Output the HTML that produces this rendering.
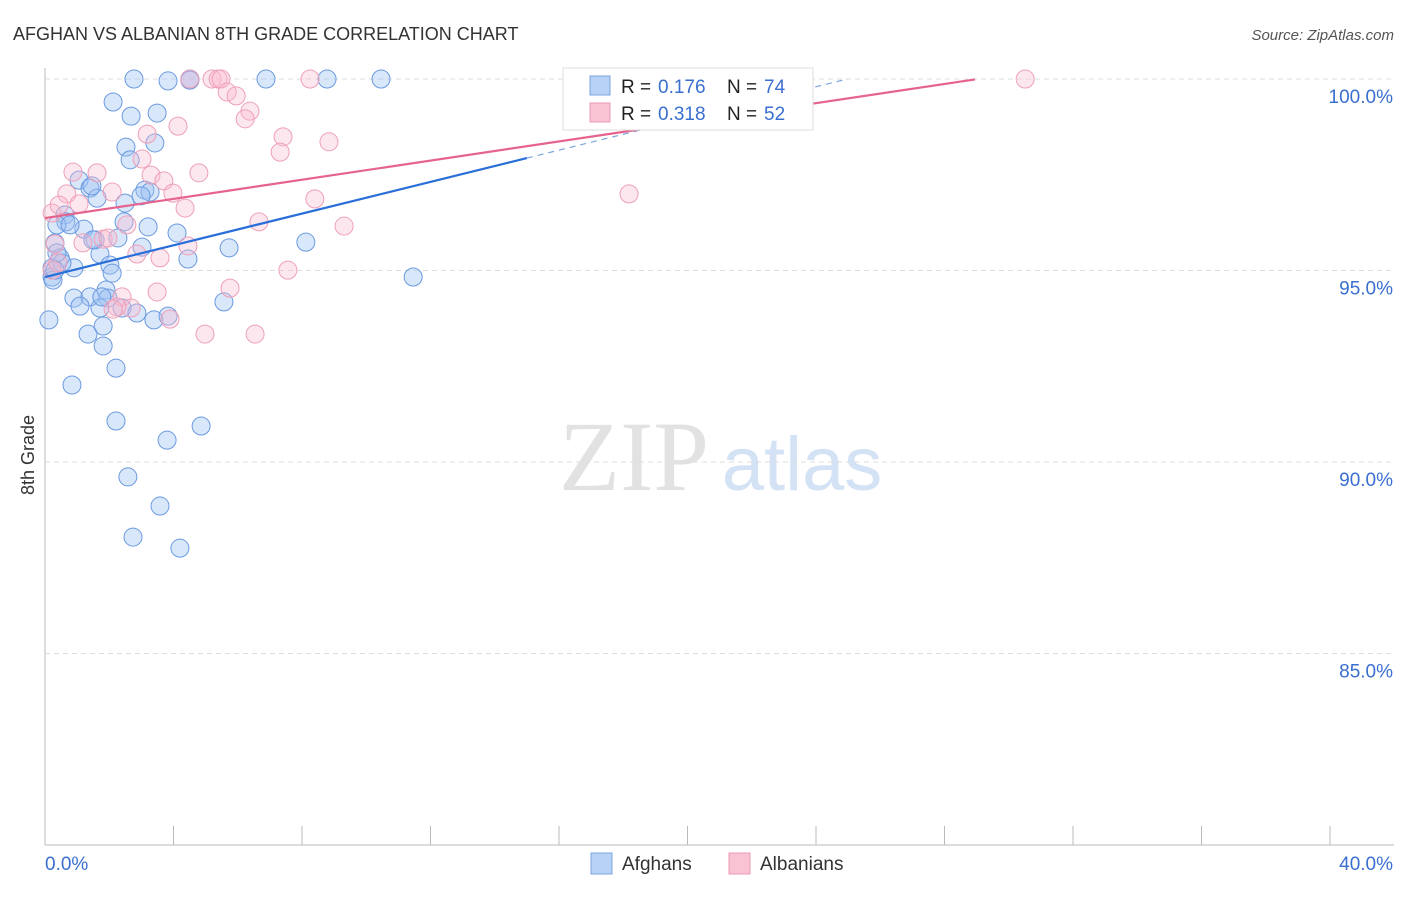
<!DOCTYPE html>
<html><head><meta charset="utf-8">
<style>
body{margin:0;background:#fff;font-family:"Liberation Sans",sans-serif;}
svg text{font-family:"Liberation Sans",sans-serif;}
</style></head>
<body>
<svg id="chart" width="1406" height="892">
<text x="13" y="40" font-size="18" fill="#333">AFGHAN VS ALBANIAN 8TH GRADE CORRELATION CHART</text>
<text x="1394" y="40" font-size="15" fill="#555" font-style="italic" text-anchor="end">Source: ZipAtlas.com</text>
<text x="634" y="490" font-size="100" fill="#e2e2e2" style="font-family:'Liberation Serif',serif" text-anchor="middle">ZIP</text>
<text x="802" y="490" font-size="76" fill="#d4e2f5" text-anchor="middle">atlas</text>
<text transform="translate(34,455) rotate(-90)" font-size="18" fill="#333" text-anchor="middle">8th Grade</text>
<g id="grid"></g><g id="pts"></g><g id="lines"></g>
<g>
<rect x="563" y="68" width="250" height="62" fill="#fff" stroke="#ddd"/>
<rect x="590" y="76" width="20" height="19" fill="#b8d2f5" stroke="#7aa6e0"/>
<rect x="590" y="103" width="20" height="19" fill="#f9c3d3" stroke="#ec9ab4"/>
<text x="621" y="93" font-size="19" fill="#222">R =</text>
<text x="658" y="93" font-size="19" fill="#3a6fd0">0.176</text>
<text x="727" y="93" font-size="19" fill="#222">N =</text>
<text x="764" y="93" font-size="19" fill="#3a6fd0">74</text>
<text x="621" y="120" font-size="19" fill="#222">R =</text>
<text x="658" y="120" font-size="19" fill="#3a6fd0">0.318</text>
<text x="727" y="120" font-size="19" fill="#222">N =</text>
<text x="764" y="120" font-size="19" fill="#3a6fd0">52</text>
</g>
<g>
<rect x="591" y="853" width="21" height="21" fill="#b8d2f5" stroke="#7aa6e0"/>
<text x="622" y="870" font-size="19" fill="#333">Afghans</text>
<rect x="729" y="853" width="21" height="21" fill="#f9c3d3" stroke="#ec9ab4"/>
<text x="760" y="870" font-size="19" fill="#333">Albanians</text>
</g>
</svg>
<script>
const yTicks=[100,95,90,85];
const xTickLabels=["0.0%","40.0%"];
const afghansPx=[[134,79],[168,81],[190,79],[266,79],[327,79],[381,79],[113,102],[131,116],[157,113],[126,147],[130,160],[155,143],[145,190],[150,192],[141,196],[79,180],[90,188],[97,198],[65,215],[66,222],[57,225],[84,229],[124,222],[148,227],[177,233],[118,238],[95,240],[142,247],[229,248],[306,242],[55,243],[100,254],[188,259],[60,258],[110,265],[74,268],[52,268],[112,273],[52,277],[53,280],[413,277],[106,290],[108,298],[74,298],[90,297],[80,306],[100,308],[122,308],[137,313],[154,320],[168,316],[224,302],[49,320],[88,334],[103,326],[103,346],[116,368],[72,385],[116,421],[167,440],[201,426],[128,477],[160,506],[133,537],[180,548],[62,263],[57,253],[93,240],[102,297],[190,80],[125,203],[92,186],[70,225],[55,270]];
const albaniansPx=[[190,79],[212,79],[218,79],[221,79],[310,79],[1025,79],[227,92],[236,96],[250,111],[245,119],[178,126],[147,134],[283,137],[280,152],[329,142],[142,159],[199,173],[73,172],[97,173],[112,192],[67,194],[79,204],[151,175],[164,181],[173,193],[185,208],[315,199],[629,194],[52,213],[59,205],[127,225],[259,222],[344,226],[55,244],[83,243],[103,239],[108,238],[137,254],[160,258],[188,246],[288,270],[52,270],[58,263],[230,288],[157,292],[122,297],[131,308],[117,307],[205,334],[255,334],[170,319],[113,309]];
const afghanX=afghansPx.map(p=>+((p[0]-45)/1285*40).toFixed(2));
const afghanY=afghansPx.map(p=>+(100-(p[1]-79)/38.3).toFixed(2));
const albanianX=albaniansPx.map(p=>+((p[0]-45)/1285*40).toFixed(2));
const albanianY=albaniansPx.map(p=>+(100-(p[1]-79)/38.3).toFixed(2));
const blueTrend=[94.83,0.207,15.0];
const pinkTrend=[96.37,0.125,28.95];
const sx=v=>45+v/40*1285, sy=v=>79+(100-v)*38.3;
const NS="http://www.w3.org/2000/svg";
function mk(t,a,p){const e=document.createElementNS(NS,t);for(const k in a)e.setAttribute(k,a[k]);p.appendChild(e);return e;}
const g=document.getElementById('grid');
const ax=mk('line',{x1:45,y1:68,x2:45,y2:845,stroke:'#bbb'},g);


const bx=mk('line',{x1:45,y1:845,x2:1394,y2:845,stroke:'#bbb'},g);


for(let i=0;i<=10;i++){const t=mk('line',{x1:45+i*128.5,y1:826,x2:45+i*128.5,y2:845,stroke:'#bbb'},g);

}
yTicks.forEach(v=>{const l=mk('line',{x1:45,x2:1394,y1:sy(v),y2:sy(v),stroke:'#ddd','stroke-dasharray':'5,4'},g);


const t=mk('text',{x:1393,y:sy(v)+24,'font-size':19,fill:'#3a6fd0','text-anchor':'end'},g);t.textContent=v.toFixed(1)+'%';

});
xTickLabels.forEach((s,i)=>{const t=mk('text',{x:i?1393:45,y:870,'font-size':19,fill:'#3a6fd0','text-anchor':i?'end':'start'},g);t.textContent=s;

});
const P=document.getElementById('pts');
afghanX.forEach((x,i)=>{const c=mk('circle',{cx:sx(x),cy:sy(afghanY[i]),r:9,fill:'rgba(160,196,242,0.4)',stroke:'#6b9ae0','stroke-width':1},P);

});
albanianX.forEach((x,i)=>{const c=mk('circle',{cx:sx(x),cy:sy(albanianY[i]),r:9,fill:'rgba(248,186,205,0.35)',stroke:'#eea0b8','stroke-width':1},P);

});
const L=document.getElementById('lines');
const f=(t,x)=>t[0]+t[1]*x;
const b1=mk('line',{x1:sx(0),y1:sy(f(blueTrend,0)),x2:sx(blueTrend[2]),y2:sy(f(blueTrend,blueTrend[2])),stroke:'#2a6fd8','stroke-width':2.2},L);


const xe=(100-blueTrend[0])/blueTrend[1];
const b2=mk('line',{x1:sx(blueTrend[2]),y1:sy(f(blueTrend,blueTrend[2])),x2:sx(xe),y2:sy(100),stroke:'#7aa6e0','stroke-width':1.2,'stroke-dasharray':'6,5'},L);


const p1=mk('line',{x1:sx(0),y1:sy(f(pinkTrend,0)),x2:sx(pinkTrend[2]),y2:sy(f(pinkTrend,pinkTrend[2])),stroke:'#e5638c','stroke-width':2.2},L);


</script>
</body></html>
